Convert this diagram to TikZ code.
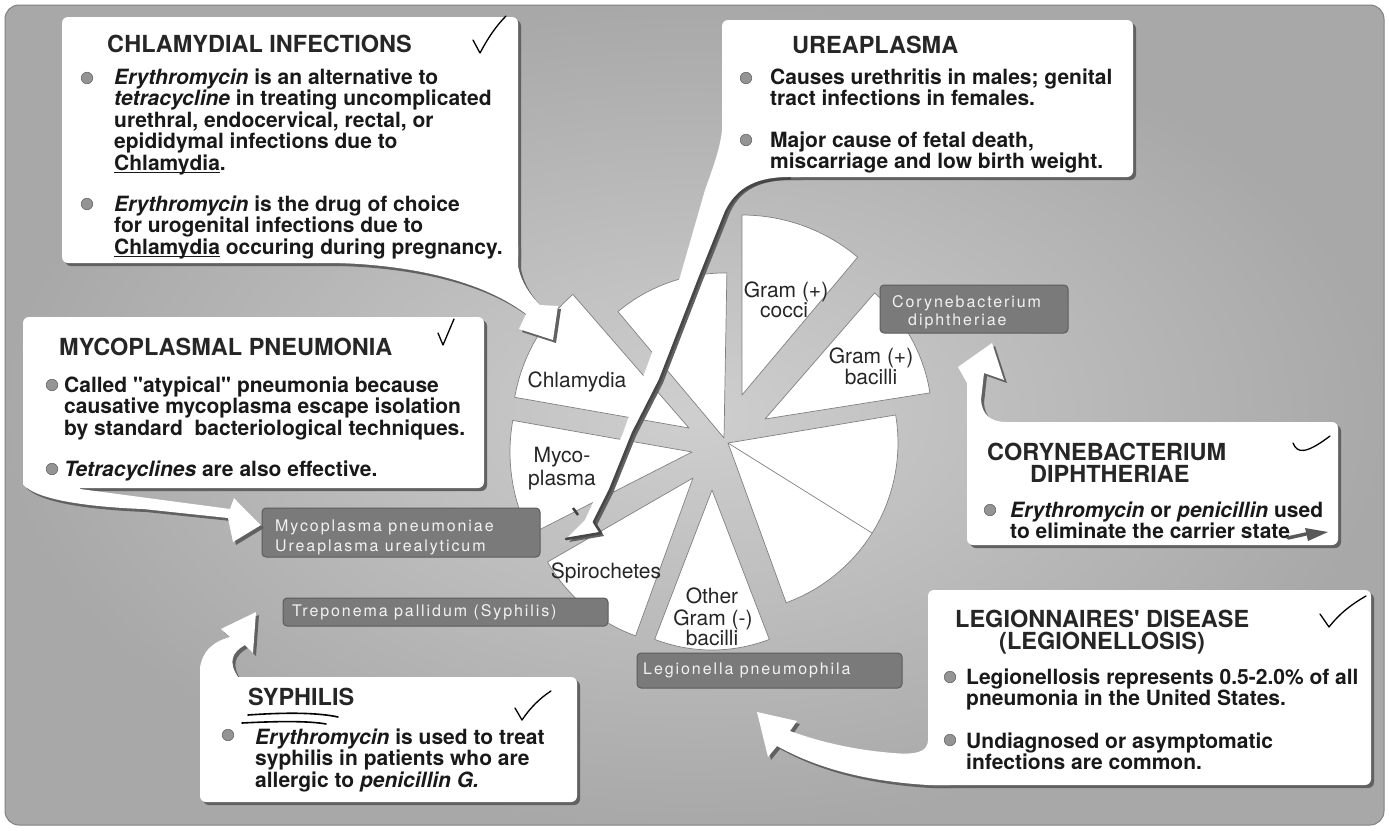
\documentclass[tikz,border=0pt]{standalone}
\usepackage{fontspec}
\setmainfont{TeX Gyre Heros}[Ligatures=TeXOff]
\newfontfamily\lblfont{TeX Gyre Heros}[LetterSpace=12]

% underline drawn a little below the baseline
\newcommand\uln[1]{\leavevmode\setbox0\hbox{#1}\rlap{\rule[-3pt]{\wd0}{1.4pt}}\box0\relax}

% exploded pie slice: apex x, apex y, radius, start angle, end angle
\newcommand\pieslice[5]{%
  \filldraw[slice] (#1,#2) -- plot[domain=#4:#5, samples=30] ({#1+#3*cos(\x)},{#2-#3*sin(\x)}) -- cycle;}

% stacked text lines: name prefix, x, first baseline, style, list of lines
\newcommand\textlines[5]{%
  \foreach \tline [count=\k from 0] in {#5} {\node[#4] (#1\k) at (#2,{#3+21.5*\k}) {\tline};}}

% white callout panels with their pointer tails
\newcommand\calloutshapes[1]{%
  % chlamydial infections
  \fill[#1, rounded corners=6] (62,17) rectangle (518,263);
  \fill[#1] (340,245) -- (340,263) .. controls (420,266) and (485,283) .. (526,314) -- (519,329) -- (553,340) -- (558,306) -- (540,305) .. controls (530,295) and (521,282) .. (518,266) -- (518,245) -- cycle;
  % ureaplasma
  \fill[#1, rounded corners=6] (722,20) rectangle (1133,177);
  \fill[#1] (722,100) -- (722,130) .. controls (720,150) and (712,170) .. (705,190) -- (680,277) -- (643,377) -- (623,433) -- (600,487) -- (585,520) -- (566,539) -- (601,533) -- (594,522) -- (610,490) -- (633,433) -- (660,380) -- (700,277) -- (726,212) .. controls (735,190) and (752,178) .. (785,177) -- (800,177) -- (800,100) -- cycle;
  % mycoplasmal pneumonia
  \fill[#1, rounded corners=6] (23,317) rectangle (484,488);
  \fill[#1] (23,470) -- (23,484) .. controls (35,500) and (90,507) .. (143,509) -- (228,518) -- (233,542) -- (261,525) -- (234,498) -- (230,509) -- (80,489) -- (80,470) -- cycle;
  % corynebacterium diphtheriae
  \fill[#1, rounded corners=6] (967,422) rectangle (1338,545);
  \fill[#1] (967,440) -- (967,383) -- (958,367) -- (992,343) -- (1004,380) -- (984,373) -- (981,400) .. controls (982,414) and (990,422) .. (1006,422) -- (1006,440) -- cycle;
  % legionnaires' disease
  \fill[#1, rounded corners=6] (928,590) rectangle (1371,785);
  \fill[#1] (950,700) -- (928,700) -- (928,740) .. controls (928,752) and (916,755) .. (893,753) .. controls (855,750) and (820,742) .. (790,731) -- (797,721) -- (757,712) -- (768,757) -- (777,746) .. controls (815,767) and (862,781) .. (928,785) -- (950,785) -- cycle;
  % syphilis
  \fill[#1, rounded corners=6] (200,677) rectangle (577,802);
  \fill[#1] (200,700) -- (200,668) .. controls (202,652) and (212,642) .. (230,637) -- (221,629) -- (256,612) -- (253,653) -- (245,645) .. controls (232,652) and (228,662) .. (238,677) -- (238,700) -- cycle;
}

\begin{document}
\begin{tikzpicture}[x=1pt, y=-1pt,
  body/.style={anchor=base west, inner sep=0pt, font=\fontsize{21}{21.5}\selectfont\bfseries, text=black!90},
  ttl/.style={anchor=base west, inner sep=0pt, font=\fontsize{23.5}{24}\selectfont\bfseries, text=black!85},
  pielbl/.style={anchor=base, inner sep=0pt, font=\fontsize{21}{21}\selectfont, text=black!85},
  lbltext/.style={anchor=base west, inner sep=0pt, font=\lblfont\fontsize{16}{16}\selectfont, text=white!95!black},
  lblbox/.style={fill=black!52, draw=black!64, line width=1, rounded corners=4},
  slice/.style={fill=white, draw=black!50, line width=0.7, line join=round},
  bulletdot/.style={circle, fill=black!42, draw=black!60, line width=0.6, minimum size=11.5pt, inner sep=0pt},
  chk/.style={draw=black, line width=1.3, line cap=round, line join=round}]

\useasboundingbox (0,0) rectangle (1389,830);
\fill[white] (0,0) rectangle (1389,830);
\shade[inner color=black!19, outer color=black!34, rounded corners=14] (5,5) rectangle (1384,825);
\draw[black!50, line width=1, rounded corners=14] (5,5) rectangle (1384,825);

% ---- pie of organism groups ----
\pieslice{724}{438}{165}{89}{130}
\pieslice{742}{395}{180}{50}{90}
\pieslice{765}{419}{167}{9}{49}
\pieslice{728}{443}{170}{-70}{9.5}
\draw[slice, fill=none] (728,443) -- ++({170*cos(-32)},{-170*sin(-32)});
\pieslice{712}{490}{160}{-111}{-69}
\pieslice{693}{478}{168}{-150}{-110}
\pieslice{692}{452}{182}{170}{207}
\pieslice{689}{428}{177}{131}{170}

\node[pielbl] (pCocA) at (786,297) {Gram (+)};
\node[pielbl] (pCocB) at (784,317) {cocci};
\node[pielbl] (pBacA) at (871,363) {Gram (+)};
\node[pielbl] (pBacB) at (871,384) {bacilli};
\node[pielbl] (pChl) at (577,387) {Chlamydia};
\node[pielbl] (pMycA) at (562,462) {Myco-};
\node[pielbl] (pMycB) at (562,485) {plasma};
\node[pielbl] (pSpi) at (606,578) {Spirochetes};
\node[pielbl] (pOthA) at (712,603) {Other};
\node[pielbl] (pOthB) at (713,625) {Gram (-)};
\node[pielbl] (pOthC) at (712,645) {bacilli};

% ---- dark organism labels ----
\filldraw[lblbox] (880,285) rectangle (1068,333);
\node[lbltext] (lCorA) at (892,307) {Corynebacterium};
\node[lbltext] (lCorB) at (908,325) {diphtheriae};
\filldraw[lblbox] (262,508) rectangle (540,557);
\node[lbltext] (lMycA) at (275,531.5) {Mycoplasma pneumoniae};
\node[lbltext] (lMycB) at (275,551) {Ureaplasma urealyticum};
\filldraw[lblbox] (283,598) rectangle (608,626);
\node[lbltext] (lTre) at (292,616.5) {Treponema pallidum (Syphilis)};
\filldraw[lblbox] (637,653) rectangle (902,688);
\node[lbltext] (lLeg) at (643,674) {Legionella pneumophila};

% ---- callout panels: shadow, then white ----
\begin{scope}[shift={(3,3)}]
  \calloutshapes{black!62}
\end{scope}
\calloutshapes{white}
\draw[black!72, line width=2.6, line join=round, line cap=round] (790,178.5) .. controls (752,179) and (736,192) .. (726,212) -- (700,277) -- (660,380) -- (633,433) -- (610,490) -- (594,522) -- (601,533) -- (566,539);
\draw[black!75, line width=2.5] (573,508) -- (578,515);

% ---- chlamydial infections ----
\node[ttl] (tChl) at (107,52) {CHLAMYDIAL INFECTIONS};
\node[bulletdot] (bChlA) at (87,78) {};
\node[bulletdot] (bChlB) at (87,204) {};
\textlines{chlA}{114}{84}{body}{{\textit{Erythromycin} is an alternative to},{\textit{tetracycline} in treating uncomplicated},{urethral, endocervical, rectal, or},{epididymal infections due to},{\uln{Chlamydia}.}}
\textlines{chlB}{114}{211}{body}{{\textit{Erythromycin} is the drug of choice},{for urogenital infections due to},{\uln{Chlamydia} occuring during pregnancy.}}
\draw[chk] (473,40) -- (480,53) .. controls (488,38) and (496,26) .. (506,16);

% ---- ureaplasma ----
\node[ttl] (tUre) at (792,53) {UREAPLASMA};
\node[bulletdot] (bUreA) at (746,78) {};
\node[bulletdot] (bUreB) at (746,140) {};
\textlines{ureA}{770}{84}{body}{{Causes urethritis in males; genital},{tract infections in females.}}
\textlines{ureB}{770}{147}{body}{{Major cause of fetal death,},{miscarriage and low birth weight.}}

% ---- mycoplasmal pneumonia ----
\node[ttl] (tMyc) at (59,355) {MYCOPLASMAL PNEUMONIA};
\node[bulletdot] (bMycA) at (52,385) {};
\node[bulletdot] (bMycB) at (52,469) {};
\textlines{mycA}{64}{392}{body}{{Called "atypical" pneumonia because},{causative mycoplasma escape isolation},{by standard\ \ bacteriological techniques.}}
\textlines{mycB}{64}{476}{body}{{\textit{Tetracyclines} are also effective.}}
\draw[chk] (438,333) -- (443,345) -- (454,319);

% ---- corynebacterium diphtheriae ----
\node[ttl] (tCorA) at (987,460) {CORYNEBACTERIUM};
\node[ttl] (tCorB) at (1030,482) {DIPHTHERIAE};
\node[bulletdot] (bCor) at (990,510) {};
\textlines{cor}{1010}{517}{body}{{\textit{Erythromycin} or \textit{penicillin} used},{to eliminate the carrier state}}
\draw[chk] (1293,443) .. controls (1297,453) and (1305,455) .. (1330,436);
\draw[black!65, line width=3.5, line cap=round] (1288,538) -- (1306,534);
\fill[black!65] (1305,528) -- (1328,532) -- (1308,541) -- cycle;

% ---- legionnaires' disease ----
\node[ttl] (tLegA) at (955,627) {LEGIONNAIRES' DISEASE};
\node[ttl] (tLegB) at (999,649) {(LEGIONELLOSIS)};
\node[bulletdot] (bLegA) at (950,677) {};
\node[bulletdot] (bLegB) at (950,740) {};
\textlines{legA}{966}{684}{body}{{Legionellosis represents 0.5-2.0\% of all},{pneumonia in the United States.}}
\textlines{legB}{966}{748}{body}{{Undiagnosed or asymptomatic},{infections are common.}}
\draw[chk] (1320,614) -- (1329,627) .. controls (1340,613) and (1352,604) .. (1366,596);

% ---- syphilis ----
\node[ttl] (tSyp) at (248,705) {SYPHILIS};
\draw[black, line width=1.6, line cap=round] (248,715) .. controls (290,712) and (320,713) .. (338,717);
\draw[black, line width=1.6, line cap=round] (242,723) .. controls (280,721) and (310,721) .. (326,724);
\node[bulletdot] (bSyp) at (228,735) {};
\textlines{syp}{255}{744}{body}{{\textit{Erythromycin} is used to treat},{syphilis in patients who are},{allergic to \textit{penicillin G.}}}
\draw[chk] (515,708) -- (522,720) .. controls (530,708) and (540,698) .. (551,691);

\end{tikzpicture}
\end{document}
